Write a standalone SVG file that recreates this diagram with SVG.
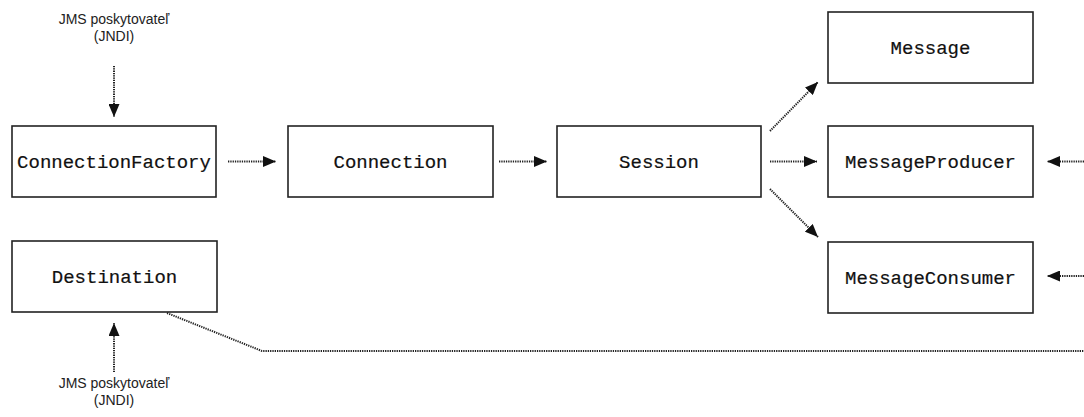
<svg xmlns="http://www.w3.org/2000/svg" width="1084" height="417" viewBox="0 0 1084 417">
<style>
.box{fill:#fff;stroke:#222;stroke-width:1.6}
.lbl{font-family:"Liberation Mono","Courier New",monospace;font-size:19px;fill:#111;stroke:#111;stroke-width:0.2;text-anchor:middle}
.note{font-family:"Liberation Sans",Arial,sans-serif;font-size:14px;fill:#222;text-anchor:middle}
.dot{fill:none;stroke:#222;stroke-width:2;stroke-dasharray:1.3 1}
</style>
<defs>
<marker id="ah" markerUnits="userSpaceOnUse" markerWidth="13" markerHeight="11" refX="13" refY="5.5" orient="auto">
<path d="M0,0 L13,5.5 L0,11 z" fill="#111"/>
</marker>
</defs>
<rect width="1084" height="417" fill="#fff"/>
<g id="jms-top"><text class="note" x="114" y="24">JMS poskytovateľ</text><text class="note" x="114" y="41">(JNDI)</text></g>
<g id="jms-bottom"><text class="note" x="114" y="388">JMS poskytovateľ</text><text class="note" x="114" y="405">(JNDI)</text></g>
<g id="connectionfactory"><rect class="box" x="12" y="126" width="204" height="71"/><text class="lbl" x="114" y="168">ConnectionFactory</text></g>
<g id="connection"><rect class="box" x="288" y="126" width="205" height="71"/><text class="lbl" x="390.5" y="168">Connection</text></g>
<g id="session"><rect class="box" x="557" y="126" width="204" height="71"/><text class="lbl" x="659" y="168">Session</text></g>
<g id="message"><rect class="box" x="828" y="12" width="205" height="71"/><text class="lbl" x="930.5" y="54">Message</text></g>
<g id="messageproducer"><rect class="box" x="828" y="126" width="205" height="71"/><text class="lbl" x="930.5" y="168">MessageProducer</text></g>
<g id="messageconsumer"><rect class="box" x="828" y="242" width="205" height="71"/><text class="lbl" x="930.5" y="284">MessageConsumer</text></g>
<g id="destination"><rect class="box" x="12" y="241" width="205" height="71"/><text class="lbl" x="114.5" y="283">Destination</text></g>
<g id="connectors">
<line class="dot" x1="114" y1="66" x2="114" y2="117" marker-end="url(#ah)"/>
<line class="dot" x1="114" y1="372" x2="114" y2="323" marker-end="url(#ah)"/>
<line class="dot" x1="228" y1="161.5" x2="276" y2="161.5" marker-end="url(#ah)"/>
<line class="dot" x1="499" y1="161.5" x2="547" y2="161.5" marker-end="url(#ah)"/>
<line class="dot" x1="770" y1="131" x2="818" y2="82" marker-end="url(#ah)"/>
<line class="dot" x1="770" y1="161.5" x2="817" y2="161.5" marker-end="url(#ah)"/>
<line class="dot" x1="770" y1="189" x2="818" y2="237" marker-end="url(#ah)"/>
<line class="dot" x1="1084" y1="161.5" x2="1047" y2="161.5" marker-end="url(#ah)"/>
<line class="dot" x1="1084" y1="276" x2="1047" y2="276" marker-end="url(#ah)"/>
<polyline class="dot" points="167,313 262,351 1084,351"/>
</g>
</svg>
